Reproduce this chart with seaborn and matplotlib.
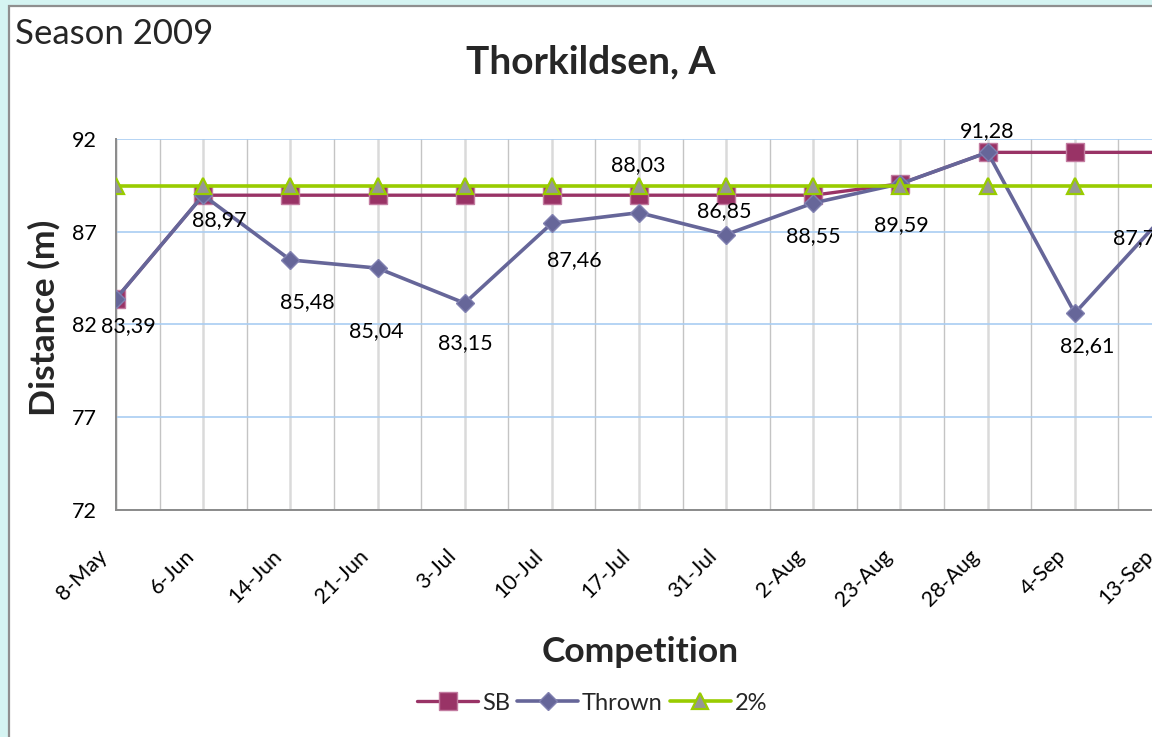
import numpy as np
import pandas as pd
import seaborn as sns
import matplotlib.pyplot as plt
import matplotlib.transforms as mtransforms
from matplotlib.patches import Rectangle
from matplotlib.ticker import MultipleLocator

# dados da temporada 2009
datas = ["8-May", "6-Jun", "14-Jun", "21-Jun", "3-Jul", "10-Jul", "17-Jul",
         "31-Jul", "2-Aug", "23-Aug", "28-Aug", "4-Sep", "13-Sep"]
thrown = [83.39, 88.97, 85.48, 85.04, 83.15, 87.46, 88.03,
          86.85, 88.55, 89.59, 91.28, 82.61, 87.75]
sb = [83.39, 88.97, 88.97, 88.97, 88.97, 88.97, 88.97,
      88.97, 88.97, 89.59, 91.28, 91.28, 91.28]
dois_pct = [89.45, 89.45, 89.45, 89.45, 89.45, 89.45, 89.45,
            89.45, 89.45, 89.45, 89.45, 89.45, 89.45]
y_ticks = [72, 77, 82, 87, 92]

# deslocamento (px) dos rótulos de dados em relação aos pontos
label_offsets = [(12, -27), (16, -25), (17, -42), (-1, -63), (1, -40), (22, -37), (-1, 48),
                 (-2, 23), (0, -33), (1, -41), (-1, 21), (12, -33), (-22, -20)]

df = pd.DataFrame({"pos": np.arange(len(datas)), "data": datas,
                   "SB": sb, "Thrown": thrown, "2%": dois_pct})

sns.set_style("white")
plt.rcParams["font.family"] = ["Lato", "DejaVu Sans"]

W, H = 1152, 737
fig = plt.figure(figsize=(W / 100, H / 100), dpi=100)
fig.patch.set_facecolor("#d5f4f2")
# painel branco do gráfico (cortado à direita e embaixo)
fig.add_artist(Rectangle((9 / W, -0.1), 1.2, 0.1 + (H - 6) / H, transform=fig.transFigure,
                         facecolor="white", edgecolor="#8f8f8f", lw=1.6, zorder=-5))

ax = fig.add_axes([116 / W, 1 - 510 / H, (1162 - 116) / W, (510 - 139) / H])
ax.set_facecolor("none")

sns.lineplot(data=df, x="pos", y="SB", ax=ax, color="#993366", lw=2.4,
             marker="s", markersize=12.5, markerfacecolor="#993366",
             markeredgecolor="#c27ba0", markeredgewidth=1, label="SB", zorder=3)
sns.lineplot(data=df, x="pos", y="Thrown", ax=ax, color="#666699", lw=2.6,
             marker="D", markersize=9.5, markerfacecolor="#666699",
             markeredgecolor="#8080b0", markeredgewidth=1, label="Thrown", zorder=4)
sns.lineplot(data=df, x="pos", y="2%", ax=ax, color="#99cc00", lw=2.6,
             marker="^", markersize=12, markerfacecolor="#969696",
             markeredgecolor="#99cc00", markeredgewidth=1.6, label="2%", zorder=5)

# rótulos de dados com vírgula decimal
for i, v in enumerate(thrown):
    ax.annotate(f"{v:.2f}".replace(".", ","), xy=(i, v), xytext=label_offsets[i],
                textcoords="offset pixels", ha="center", va="center",
                fontsize=15.5, color="black", zorder=6, annotation_clip=False)

# eixos
ax.set_xlim(0, len(datas) - 1)
ax.set_ylim(y_ticks[0], y_ticks[-1])
ax.set_yticks(y_ticks)
ax.set_xticks(df["pos"])
ax.set_xticklabels(datas, rotation=45, ha="right", va="center", rotation_mode="anchor")
ax.xaxis.set_minor_locator(MultipleLocator(0.5))
ax.tick_params(axis="both", length=0, labelsize=15.5, colors="black")
ax.tick_params(axis="x", pad=31)
ax.tick_params(axis="y", pad=14)
shift = mtransforms.ScaledTranslation(-12 / 100, 0, fig.dpi_scale_trans)
for lab in ax.get_xticklabels():
    lab.set_transform(lab.get_transform() + shift)

ax.grid(True, axis="y", which="major", color="#a9cdf2", lw=1.2)
ax.grid(True, axis="x", which="major", color="#dadada", lw=1.8)
ax.grid(True, axis="x", which="minor", color="#c4c4c4", lw=1.0)
ax.set_axisbelow(True)
for s in ["top", "right"]:
    ax.spines[s].set_visible(False)
for s in ["left", "bottom"]:
    ax.spines[s].set_color("#8a8a8a")
    ax.spines[s].set_linewidth(1.4)

ax.set_xlabel("")
ax.set_ylabel("")
fig.text(44 / W, 1 - 318 / H, "Distance (m)", rotation=90, ha="center", va="center",
         fontsize=25.5, fontweight="bold")
fig.text(640 / W, 1 - 652 / H, "Competition", ha="center", va="center",
         fontsize=25.5, fontweight="bold")
fig.text(591 / W, 1 - 62 / H, "Thorkildsen, A", ha="center", va="center",
         fontsize=28, fontweight="bold")
fig.text(15 / W, 1 - 34 / H, "Season 2009", ha="left", va="center", fontsize=25)

ax.legend(loc="center", bbox_to_anchor=(592 / W, 1 - 703 / H), bbox_transform=fig.transFigure,
          ncol=3, frameon=False, fontsize=17, handlelength=2.6, handletextpad=0.15,
          columnspacing=0.3)

fig.savefig("out.png", dpi=100)
plt.close(fig)
